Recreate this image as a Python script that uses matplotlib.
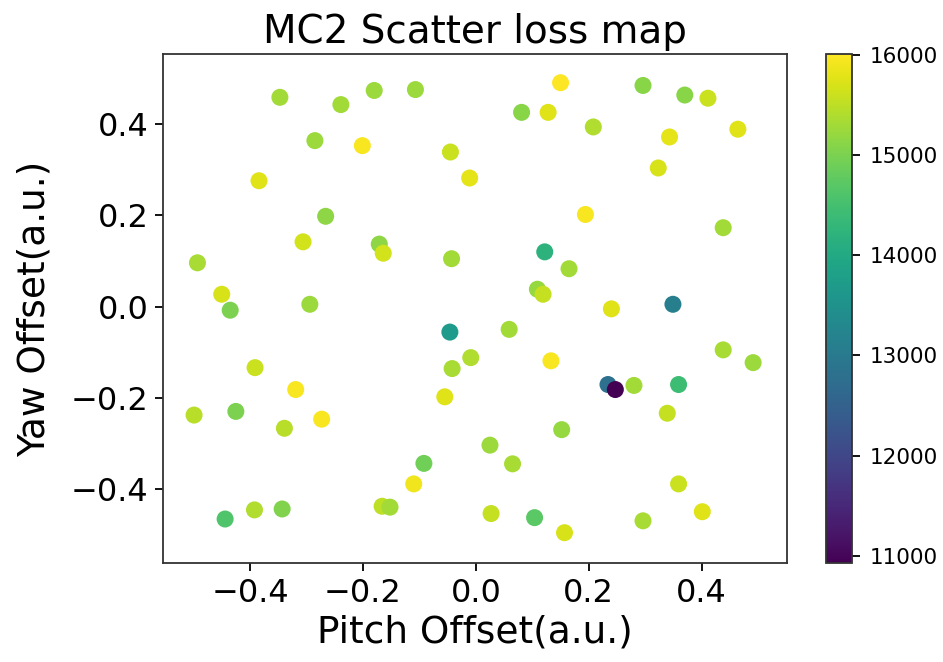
import matplotlib
matplotlib.use('Agg')
import matplotlib.pyplot as plt

# pitch / yaw offsets (a.u.) and measured loss for each scan point
pitch = [-0.347, -0.239, -0.180, -0.107, -0.285, -0.201, -0.045, -0.011, -0.384, -0.266,
         -0.306, -0.171, -0.164, -0.043, -0.493, -0.450, -0.435, -0.294, 0.150, 0.296,
         0.370, 0.411, 0.081, 0.128, 0.208, 0.343, 0.464, 0.323, 0.194, 0.438,
         0.122, 0.165, 0.109, 0.119, 0.240, 0.349, -0.046, -0.009, -0.042, -0.055,
         -0.391, -0.319, -0.499, -0.425, -0.339, -0.273, -0.092, -0.110, -0.444, -0.392,
         -0.343, -0.166, -0.152, 0.059, 0.133, 0.438, 0.491, 0.234, 0.247, 0.280,
         0.359, 0.339, 0.152, 0.025, 0.065, 0.359, 0.401, 0.027, 0.104, 0.296,
         0.157]
yaw = [0.459, 0.443, 0.474, 0.476, 0.364, 0.353, 0.339, 0.282, 0.276, 0.198,
       0.142, 0.137, 0.117, 0.105, 0.096, 0.027, -0.008, 0.005, 0.491, 0.485,
       0.464, 0.457, 0.426, 0.426, 0.394, 0.372, 0.389, 0.304, 0.202, 0.173,
       0.120, 0.083, 0.038, 0.027, -0.005, 0.005, -0.056, -0.112, -0.136, -0.198,
       -0.134, -0.182, -0.238, -0.230, -0.267, -0.247, -0.344, -0.389, -0.466, -0.446,
       -0.444, -0.438, -0.440, -0.050, -0.119, -0.095, -0.123, -0.171, -0.182, -0.173,
       -0.171, -0.234, -0.270, -0.304, -0.345, -0.389, -0.450, -0.454, -0.463, -0.470,
       -0.496]
loss = [15300, 15300, 15250, 15250, 15250, 15950, 15600, 15800, 15750, 15150,
        15650, 15150, 15650, 15300, 15350, 15700, 15000, 15250, 16005, 15100,
        15100, 15600, 15100, 15750, 15400, 15800, 15750, 15700, 15950, 15300,
        14200, 15300, 15200, 15550, 15750, 13100, 13700, 15400, 15350, 15750,
        15600, 15950, 15450, 15000, 15450, 15950, 14900, 15900, 14600, 15400,
        15050, 15500, 15300, 15300, 15950, 15350, 15250, 12800, 10930, 15300,
        14400, 15550, 15200, 15250, 15350, 15600, 15750, 15550, 14700, 15350,
        15700]

fig = plt.figure(figsize=(9.43, 6.62), dpi=100)
ax = fig.add_axes([163 / 943, 1 - 563 / 662, 624 / 943, 509 / 662])
sc = ax.scatter(pitch, yaw, c=loss, cmap='viridis', s=150, linewidths=0)
ax.set_xlim(-0.554, 0.551)
ax.set_ylim(-0.5625, 0.554)
ax.set_xticks([-0.4, -0.2, 0.0, 0.2, 0.4])
ax.set_yticks([-0.4, -0.2, 0.0, 0.2, 0.4])
ax.tick_params(labelsize=23, length=5.5, width=1.3, pad=5)
for sp in ax.spines.values():
    sp.set_linewidth(1.3)
    sp.set_color('#333333')
ax.set_xlabel('Pitch Offset(a.u.)', fontsize=27, labelpad=4)
ax.set_ylabel('Yaw Offset(a.u.)', fontsize=27, labelpad=13)
ax.set_title('MC2 Scatter loss map', fontsize=28, pad=8)

cax = fig.add_axes([826 / 943, 1 - 563 / 662, 26 / 943, 509 / 662])
cb = fig.colorbar(sc, cax=cax)
cb.outline.set_linewidth(1.3)
cb.outline.set_edgecolor('#333333')
cb.ax.tick_params(labelsize=15.5, length=5.5, width=1.3, pad=7)

fig.savefig('out.png', dpi=100)
